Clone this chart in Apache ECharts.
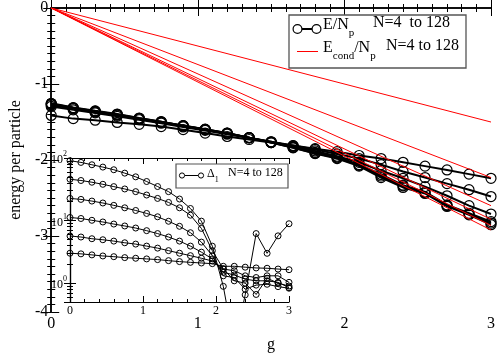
<!DOCTYPE html>
<html><head><meta charset="utf-8">
<script src="https://cdn.jsdelivr.net/npm/echarts@6/dist/echarts.min.js"></script>
<style>html,body{margin:0;padding:0;background:#fff}#c{width:498px;height:358px}</style>
</head><body><div id="c"></div>
<script>
// coupling strength values
const G = [0,0.15,0.3,0.45,0.6,0.75,0.9,1.05,1.2,1.35,1.5,1.65,1.8,1.95,2.1,2.25,2.4,2.55,2.7,2.85,3];
const SIZES = ['4','8','16','32','64','128'];
// E/Np for N=4..128
const E_N4   = [-1.413,-1.455,-1.476,-1.505,-1.53,-1.56,-1.60,-1.645,-1.69,-1.73,-1.77,-1.81,-1.85,-1.89,-1.94,-1.98,-2.03,-2.08,-2.13,-2.185,-2.24];
const E_N8   = [-1.295,-1.34,-1.38,-1.425,-1.47,-1.515,-1.565,-1.61,-1.66,-1.71,-1.76,-1.81,-1.86,-1.92,-1.98,-2.06,-2.15,-2.23,-2.31,-2.39,-2.48];
const E_N16  = [-1.275,-1.325,-1.37,-1.41,-1.46,-1.505,-1.555,-1.60,-1.65,-1.705,-1.76,-1.82,-1.88,-1.95,-2.03,-2.14,-2.24,-2.35,-2.47,-2.60,-2.71];
const E_N32  = [-1.265,-1.318,-1.362,-1.405,-1.455,-1.50,-1.55,-1.598,-1.648,-1.705,-1.765,-1.83,-1.90,-1.96,-2.06,-2.19,-2.33,-2.42,-2.59,-2.70,-2.81];
const E_N64  = [-1.258,-1.313,-1.357,-1.40,-1.45,-1.497,-1.548,-1.596,-1.646,-1.705,-1.77,-1.835,-1.91,-1.97,-2.07,-2.21,-2.34,-2.43,-2.60,-2.71,-2.83];
const E_N128 = [-1.254,-1.31,-1.353,-1.395,-1.447,-1.495,-1.547,-1.594,-1.644,-1.705,-1.77,-1.84,-1.915,-1.98,-2.08,-2.23,-2.36,-2.44,-2.61,-2.72,-2.85];
// Econd/Np : straight lines, values at g=0 and g=3
const G_COND = [0,3];
const COND_N4   = [0,-1.50];
const COND_N8   = [0,-2.23];
const COND_N16  = [0,-2.60];
const COND_N32  = [0,-2.78];
const COND_N64  = [0,-2.86];
const COND_N128 = [0,-2.92];
// inset: Delta_1 (log scale)
const D_N4   = [3.01,2.94,2.83,2.72,2.65,2.56,2.50,2.44,2.38,2.29,2.21,2.15,2.10,2.05,1.86,1.86,1.80,1.75,1.73,1.68,1.64];
const D_N8   = [5.67,5.46,5.13,4.94,4.70,4.42,4.21,3.91,3.63,3.31,3.01,2.75,2.50,2.26,1.68,1.58,1.31,1.23,1.31,1.31,1.03];
const D_N16  = [11.2,10.8,10.1,9.5,8.8,8.2,7.6,6.9,6.2,5.46,4.7,3.91,3.13,2.44,1.49,1.35,1.16,1.09,1.09,1.03,0.85];
const D_N32  = [22.6,21.8,20.5,19.1,17.5,16.0,14.5,13.0,11.5,9.75,8.1,6.4,4.53,2.75,1.31,1.23,0.80,0.93,0.96,0.88,0.83];
const D_N64  = [45.8,43.7,41.0,38.0,34.9,32.0,29.0,25.6,22.6,19.5,16.0,12.2,7.5,3.3,1.7,1.09,1.0,0.66,1.2,1.0,0.9];
const D_N128 = [90.5,85,78,71.6,64.9,57.3,50,42.1,35,29,22.1,15.6,9.8,3.9,0.89,0.1,0.65,6.2,3.0,5.7,8.9];
// tick labels
const MAIN_X_TICKS = [0,1,2,3];
const MAIN_Y_TICKS = [0,-1,-2,-3,-4];

const E_SETS = [E_N4,E_N8,E_N16,E_N32,E_N64,E_N128];
const COND_SETS = [COND_N4,COND_N8,COND_N16,COND_N32,COND_N64,COND_N128];
const D_SETS = [D_N4,D_N8,D_N16,D_N32,D_N64,D_N128];

const pairs = (xs, ys) => xs.map((x, i) => [x, ys[i]]);
const FONT = 'Liberation Serif';

const series = [];
E_SETS.forEach((ys, k) => series.push({
  name: 'E/Np N=' + SIZES[k], type: 'line', xAxisIndex: 0, yAxisIndex: 0, z: 3,
  data: pairs(G, ys), symbol: 'circle', symbolSize: 10,
  itemStyle: {color: 'rgba(0,0,0,0)', borderColor: '#000', borderWidth: 1.2},
  lineStyle: {color: '#000', width: 2}, emphasis: {disabled: true}
}));
COND_SETS.forEach((ys, k) => series.push({
  name: 'Econd/Np N=' + SIZES[k], type: 'line', xAxisIndex: 0, yAxisIndex: 0, z: 4,
  data: pairs(G_COND, ys), symbol: 'none', itemStyle: {color: '#ff0000'},
  lineStyle: {color: '#ff0000', width: 1}, emphasis: {disabled: true}
}));
D_SETS.forEach((ys, k) => series.push({
  name: 'Delta1 N=' + SIZES[k], type: 'line', xAxisIndex: 2, yAxisIndex: 2, z: 5,
  data: pairs(G, ys), symbol: 'circle', symbolSize: 6,
  itemStyle: {color: 'rgba(0,0,0,0)', borderColor: '#000', borderWidth: 1},
  lineStyle: {color: '#000', width: 1}, emphasis: {disabled: true}
}));

const axisCommon = {
  axisLine: {lineStyle: {color: '#000', width: 1.5}},
  axisTick: {inside: true, length: 8, lineStyle: {color: '#000', width: 1}},
  minorTick: {show: true, length: 4, lineStyle: {color: '#000', width: 1}},
  splitLine: {show: false}
};
const insetCommon = {
  axisLine: {lineStyle: {color: '#000', width: 1.2}},
  axisTick: {inside: true, length: 6, lineStyle: {color: '#000', width: 1}},
  minorTick: {show: true, length: 3, lineStyle: {color: '#000', width: 1}},
  splitLine: {show: false}
};

// legend drawing helpers (decoration only)
const richMain = {
  t: {fontSize: 16, fontFamily: FONT, color: '#000', lineHeight: 22, verticalAlign: 'top'},
  s: {fontSize: 11, fontFamily: FONT, color: '#000', lineHeight: 22, verticalAlign: 'bottom'}
};
const richInset = {
  t: {fontSize: 12, fontFamily: FONT, color: '#000', lineHeight: 16, verticalAlign: 'top'},
  s: {fontSize: 8, fontFamily: FONT, color: '#000', lineHeight: 16, verticalAlign: 'bottom'}
};
const txt = (x, y, text, rich, z) => ({type: 'text', x: x, y: y, z: z, silent: true,
  style: {text: text, rich: rich, fontFamily: FONT, align: 'left', verticalAlign: 'middle', fill: '#000'}});
const graphics = [
  // main legend
  {type: 'rect', z: 50, silent: true, shape: {x: 289, y: 15, width: 177, height: 53}, style: {fill: '#fff', stroke: '#555', lineWidth: 1.3}},
  {type: 'line', z: 51, silent: true, shape: {x1: 302, y1: 29, x2: 312, y2: 29}, style: {stroke: '#000', lineWidth: 2}},
  {type: 'circle', z: 51, silent: true, shape: {cx: 297.5, cy: 29, r: 4.4}, style: {fill: 'none', stroke: '#000', lineWidth: 1.2}},
  {type: 'circle', z: 51, silent: true, shape: {cx: 316.5, cy: 29, r: 4.4}, style: {fill: 'none', stroke: '#000', lineWidth: 1.2}},
  txt(323, 28, '{t|E/N}{s|p}', richMain, 52),
  txt(373, 26, '{t|N=4  to 128}', richMain, 52),
  {type: 'line', z: 51, silent: true, shape: {x1: 297, y1: 51.5, x2: 318, y2: 51.5}, style: {stroke: '#ff0000', lineWidth: 1}},
  txt(323, 51, '{t|E}{s|cond}{t|/N}{s|p}', richMain, 52),
  txt(386, 49, '{t|N=4 to 128}', richMain, 52),
  // inset legend
  {type: 'rect', z: 50, silent: true, shape: {x: 176, y: 164, width: 112, height: 24}, style: {fill: '#fff', stroke: '#555', lineWidth: 1.2}},
  {type: 'line', z: 51, silent: true, shape: {x1: 184.5, y1: 175.5, x2: 198.5, y2: 175.5}, style: {stroke: '#000', lineWidth: 1}},
  {type: 'circle', z: 51, silent: true, shape: {cx: 182, cy: 175.5, r: 2.6}, style: {fill: '#fff', stroke: '#000', lineWidth: 1}},
  {type: 'circle', z: 51, silent: true, shape: {cx: 201, cy: 175.5, r: 2.6}, style: {fill: '#fff', stroke: '#000', lineWidth: 1}},
  txt(207, 176, '{t|Δ}{s|1}', richInset, 52),
  txt(228, 175, '{t|N=4 to 128}', richInset, 52)
];

const chart = echarts.init(document.getElementById('c'), null, {renderer: 'canvas'});
chart.setOption({
  animation: false,
  backgroundColor: '#fff',
  grid: [
    {left: 40, right: 5, top: 6, bottom: 34},
    {left: 70, top: 158, width: 219, height: 144, show: true, backgroundColor: '#fff', borderWidth: 0, z: 4}
  ],
  xAxis: [
    Object.assign({type: 'value', gridIndex: 0, min: MAIN_X_TICKS[0], max: MAIN_X_TICKS[3], interval: 1,
      minorTick: Object.assign({}, axisCommon.minorTick, {splitNumber: 10}),
      axisLabel: {color: '#000', fontFamily: FONT, fontSize: 16, margin: 4},
      name: 'g', nameLocation: 'middle', nameGap: 24, nameTextStyle: {color: '#000', fontFamily: FONT, fontSize: 16}},
      {axisLine: axisCommon.axisLine, axisTick: axisCommon.axisTick, splitLine: axisCommon.splitLine}),
    Object.assign({type: 'value', gridIndex: 0, position: 'top', min: 0, max: 3, interval: 1,
      minorTick: Object.assign({}, axisCommon.minorTick, {splitNumber: 10}), axisLabel: {show: false}},
      {axisLine: axisCommon.axisLine, axisTick: axisCommon.axisTick, splitLine: axisCommon.splitLine}),
    Object.assign({type: 'value', gridIndex: 1, min: 0, max: 3, interval: 1,
      minorTick: Object.assign({}, insetCommon.minorTick, {splitNumber: 5}),
      axisLabel: {color: '#000', fontFamily: FONT, fontSize: 12, margin: 3}},
      {axisLine: insetCommon.axisLine, axisTick: insetCommon.axisTick, splitLine: insetCommon.splitLine, z: 6}),
    Object.assign({type: 'value', gridIndex: 1, position: 'top', min: 0, max: 3, interval: 1,
      minorTick: Object.assign({}, insetCommon.minorTick, {splitNumber: 5}), axisLabel: {show: false}},
      {axisLine: insetCommon.axisLine, axisTick: insetCommon.axisTick, splitLine: insetCommon.splitLine, z: 6})
  ],
  yAxis: [
    Object.assign({type: 'value', gridIndex: 0, min: MAIN_Y_TICKS[4], max: MAIN_Y_TICKS[0], interval: 1,
      minorTick: Object.assign({}, axisCommon.minorTick, {splitNumber: 10}),
      axisLabel: {color: '#000', fontFamily: FONT, fontSize: 16, margin: 3},
      name: 'energy per particle', nameLocation: 'middle', nameGap: 22, nameRotate: 90,
      nameTextStyle: {color: '#000', fontFamily: FONT, fontSize: 16}},
      {axisLine: axisCommon.axisLine, axisTick: axisCommon.axisTick, splitLine: axisCommon.splitLine}),
    Object.assign({type: 'value', gridIndex: 0, position: 'right', min: -4, max: 0, interval: 1,
      minorTick: Object.assign({}, axisCommon.minorTick, {splitNumber: 10}), axisLabel: {show: false}},
      {axisLine: axisCommon.axisLine, axisTick: axisCommon.axisTick, splitLine: axisCommon.splitLine}),
    Object.assign({type: 'log', logBase: 10, gridIndex: 1, min: 0.5, max: 100,
      minorTick: Object.assign({}, insetCommon.minorTick, {splitNumber: 9}),
      axisLabel: {color: '#000', fontFamily: FONT, fontSize: 12, margin: 3,
        formatter: v => { const l = Math.log10(v), e = Math.round(l); return Math.abs(l - e) > 1e-6 ? '' : '{b|10}{sup|' + e + '}'; },
        rich: {b: {fontSize: 12, fontFamily: FONT, color: '#000', lineHeight: 16, verticalAlign: 'bottom'},
               sup: {fontSize: 8, fontFamily: FONT, color: '#000', lineHeight: 16, verticalAlign: 'top'}}}},
      {axisLine: insetCommon.axisLine, axisTick: insetCommon.axisTick, splitLine: insetCommon.splitLine, z: 6}),
    Object.assign({type: 'log', logBase: 10, gridIndex: 1, position: 'right', min: 0.5, max: 100,
      minorTick: Object.assign({}, insetCommon.minorTick, {splitNumber: 9}), axisLabel: {show: false}},
      {axisLine: insetCommon.axisLine, axisTick: insetCommon.axisTick, splitLine: insetCommon.splitLine, z: 6})
  ],
  graphic: graphics,
  series: series
});
</script></body></html>
